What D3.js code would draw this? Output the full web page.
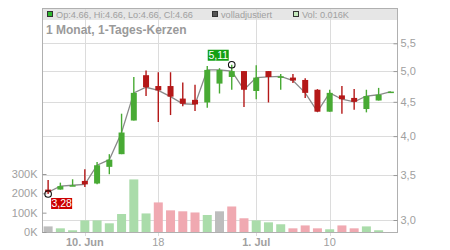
<!DOCTYPE html>
<html>
<head>
<meta charset="utf-8">
<script src="https://cdn.jsdelivr.net/npm/d3@7"></script>
<style>
  body { margin: 0; background: #fff; }
  svg { display: block; font-family: "Liberation Sans", Arial, sans-serif; }
</style>
</head>
<body>
<div id="chart"></div>
<script>
// daily candles, 5 Jun - 17 Jul 2024
const dates = ['2024-06-05', '2024-06-06', '2024-06-07', '2024-06-10', '2024-06-11', '2024-06-12', '2024-06-13',
  '2024-06-14', '2024-06-17', '2024-06-18', '2024-06-20', '2024-06-21', '2024-06-24', '2024-06-25', '2024-06-26',
  '2024-06-27', '2024-06-28', '2024-07-01', '2024-07-02', '2024-07-03', '2024-07-05', '2024-07-08', '2024-07-09',
  '2024-07-10', '2024-07-11', '2024-07-12', '2024-07-15', '2024-07-16', '2024-07-17'];
const open = [3.33, 3.33, 3.37, 3.43, 3.40, 3.60, 3.76, 4.22, 4.93, 4.75, 4.75, 4.55, 4.53, 4.49, 4.79,
  4.90, 5.00, 4.67, 5.00, 4.90, 4.89, 4.85, 4.69, 4.35, 4.60, 4.56, 4.39, 4.52, 4.66];
const high = [3.44, 3.41, 3.45, 3.57, 3.66, 3.76, 4.32, 4.90, 5.01, 4.98, 4.98, 4.81, 4.77, 5.09, 5.05,
  5.11, 5.00, 5.10, 5.00, 4.95, 4.95, 4.88, 4.70, 4.69, 4.75, 4.70, 4.69, 4.72, 4.66];
const low = [3.28, 3.33, 3.37, 3.36, 3.39, 3.51, 3.76, 4.22, 4.59, 4.20, 4.30, 4.43, 4.36, 4.41, 4.63,
  4.69, 4.42, 4.54, 4.49, 4.69, 4.80, 4.56, 4.35, 4.35, 4.32, 4.38, 4.34, 4.52, 4.66];
const close = [3.30, 3.37, 3.38, 3.39, 3.62, 3.69, 4.05, 4.64, 4.73, 4.68, 4.58, 4.47, 4.46, 5.02, 5.02,
  5.00, 4.69, 4.89, 4.90, 4.91, 4.84, 4.64, 4.35, 4.64, 4.54, 4.50, 4.59, 4.61, 4.66];
const volume = [29000, 19000, 9000, 60000, 60000, 45000, 93000, 272000, 96000, 153000, 112000, 107000, 101000,
  88000, 107000, 132000, 71000, 60000, 50000, 40000, 19000, 34000, 19000, 14000, 34000, 19000, 29000, 9000, 16];

const priceTicks = [3, 3.5, 4, 4.5, 5, 5.5];
const volumeTicks = [0, 100000, 200000, 300000];
const dateTicks = [
  { date: '2024-06-10', label: '10. Jun', bold: true },
  { date: '2024-06-18', label: '18', bold: false },
  { date: '2024-07-01', label: '1. Jul', bold: true },
  { date: '2024-07-10', label: '10', bold: false },
];

const title = '1 Monat, 1-Tages-Kerzen';

const data = dates.map((d, i) => ({
  date: d, open: open[i], high: high[i], low: low[i], close: close[i], volume: volume[i],
  prev: i > 0 ? close[i - 1] : null,
}));

// dimensions
const WIDTH = 450;
const HEIGHT = 250;
const LEFT = 42;
const RIGHT = 397;
const TOP = 8;
const BOTTOM = 232;

const GREEN = '#48aa34';
const RED = '#b41818';
const GRID = '#dcdcdc';
const AXIS = '#b0b0b0';
const TEXT = '#a0a0a0';

const de = d3.formatLocale({ decimal: ',', thousands: '.', grouping: [3], currency: ['', '€'] });
const fmtPrice = de.format('.1f');
const fmtLabel = de.format('.2f');

// scales
const x = d3.scaleBand().domain(dates).range([LEFT, RIGHT]).padding(0);
const cx = d => x(d) + x.bandwidth() / 2;
const y = d3.scaleLog().domain([3, 5.5]).range([220, 43.3]);
const yVol = d3.scaleLinear().domain([0, 300000]).range([BOTTOM, 174]);

const svg = d3.select('#chart').append('svg')
  .attr('width', WIDTH)
  .attr('height', HEIGHT);

// header band
svg.append('rect')
  .attr('x', LEFT).attr('y', TOP)
  .attr('width', RIGHT - LEFT).attr('height', 12)
  .attr('fill', '#e6e6e6');

// grid
const $grid = svg.append('g').attr('class', 'grid');
$grid.selectAll('.hgrid')
  .data(priceTicks)
  .join('line')
  .attr('x1', LEFT).attr('x2', RIGHT)
  .attr('y1', d => Math.round(y(d)) + 0.5).attr('y2', d => Math.round(y(d)) + 0.5)
  .attr('stroke', GRID);
$grid.selectAll('.vgrid')
  .data(dateTicks)
  .join('line')
  .attr('x1', d => Math.round(cx(d.date)) + 0.5).attr('x2', d => Math.round(cx(d.date)) + 0.5)
  .attr('y1', TOP).attr('y2', BOTTOM + 4)
  .attr('stroke', GRID);

// volume bars
const volColor = d => d.prev === null || d.close === d.prev ? '#bdbdbd' : (d.close > d.prev ? '#aadcaa' : '#f0a9b1');
svg.append('g').attr('class', 'volume')
  .selectAll('rect')
  .data(data)
  .join('rect')
  .attr('x', d => cx(d.date) - 4.5)
  .attr('width', 9)
  .attr('y', d => yVol(d.volume))
  .attr('height', d => BOTTOM - yVol(d.volume))
  .attr('fill', volColor);

// close line
const line = d3.line().x(d => cx(d.date)).y(d => y(d.close));
svg.append('path')
  .datum(data)
  .attr('d', line)
  .attr('fill', 'none')
  .attr('stroke', '#8a8a8a')
  .attr('stroke-width', 1.3);

// candles
const $candles = svg.append('g').attr('class', 'candles')
  .selectAll('g')
  .data(data)
  .join('g')
  .attr('fill', d => d.close >= d.open ? GREEN : RED)
  .attr('stroke', d => d.close >= d.open ? GREEN : RED);

$candles.append('line')
  .attr('x1', d => cx(d.date)).attr('x2', d => cx(d.date))
  .attr('y1', d => y(d.high)).attr('y2', d => y(d.low))
  .attr('stroke-width', 1.4);

$candles.append('rect')
  .attr('x', d => cx(d.date) - 3)
  .attr('width', 6)
  .attr('y', d => y(Math.max(d.open, d.close)))
  .attr('height', d => Math.max(1.5, Math.abs(y(d.open) - y(d.close))))
  .attr('stroke', 'none');

// frame and axes
svg.append('rect')
  .attr('x', LEFT + 0.5).attr('y', TOP + 0.5)
  .attr('width', RIGHT - LEFT).attr('height', BOTTOM - TOP)
  .attr('fill', 'none')
  .attr('stroke', AXIS);

const $yAxis = svg.append('g')
  .attr('transform', `translate(${RIGHT + 0.5},0)`)
  .call(d3.axisRight(y).tickValues(priceTicks).tickFormat(fmtPrice).tickSize(4).tickPadding(3))
  .call(g => g.select('.domain').remove());
$yAxis.selectAll('.tick line').attr('x1', -4).attr('x2', 0).attr('stroke', '#999');
$yAxis.selectAll('.tick text').attr('x', 3).attr('fill', TEXT).attr('font-size', 11)
  .attr('font-family', '"Liberation Sans", Arial, sans-serif');

const $vAxis = svg.append('g')
  .attr('transform', `translate(${LEFT + 0.5},0)`)
  .call(d3.axisLeft(yVol).tickValues(volumeTicks).tickFormat(d => d / 1000 + 'K').tickSize(0).tickPadding(5))
  .call(g => g.select('.domain').remove());
$vAxis.selectAll('.tick line').attr('x1', 0).attr('x2', 4).attr('stroke', '#999');
$vAxis.selectAll('.tick text').attr('fill', TEXT).attr('font-size', 11)
  .attr('font-family', '"Liberation Sans", Arial, sans-serif');

// x axis labels
const $xAxis = svg.append('g').attr('class', 'x axis');
$xAxis.selectAll('text')
  .data(dateTicks)
  .join('text')
  .attr('x', d => cx(d.date))
  .attr('y', 245.5)
  .attr('text-anchor', 'middle')
  .attr('font-size', 11)
  .attr('font-weight', d => d.bold ? 'bold' : 'normal')
  .attr('fill', TEXT)
  .text(d => d.label);

// header legend
const last = data[data.length - 1];
const legend = [
  { x: 47, fill: '#2eb82e', text: `Op:${last.open.toFixed(2)}, Hi:${last.high.toFixed(2)}, Lo:${last.low.toFixed(2)}, Cl:${last.close.toFixed(2)}` },
  { x: 212, fill: '#555', text: 'volladjustiert' },
  { x: 293, fill: '#c4e8bc', text: `Vol: ${(last.volume / 1000).toFixed(3)}K` },
];
const $legend = svg.append('g').selectAll('g').data(legend).join('g');
$legend.append('rect')
  .attr('x', d => d.x + 0.5).attr('y', 11.5)
  .attr('width', 5).attr('height', 5)
  .attr('fill', d => d.fill)
  .attr('stroke', '#333');
$legend.append('text')
  .attr('x', d => d.x + 9).attr('y', 17.5)
  .attr('font-size', 9.2)
  .attr('fill', TEXT)
  .text(d => d.text);

svg.append('text')
  .attr('x', 46).attr('y', 34)
  .attr('font-size', 12)
  .attr('font-weight', 'bold')
  .attr('fill', '#9a9a9a')
  .text(title);

// min / max markers
const iMin = d3.minIndex(data, d => d.low);
const iMax = d3.maxIndex(data, d => d.high);
const markers = [
  { d: data[iMin], v: data[iMin].low, fill: '#cc0000', bx: 3, by: 4 },
  { d: data[iMax], v: data[iMax].high, fill: '#13a013', bx: -24, by: -15 },
];
const $markers = svg.append('g').selectAll('g').data(markers).join('g');
$markers.append('circle')
  .attr('cx', m => cx(m.d.date)).attr('cy', m => y(m.v))
  .attr('r', 3.3)
  .attr('fill', 'none')
  .attr('stroke', '#111')
  .attr('stroke-width', 1.1);
$markers.append('rect')
  .attr('x', m => cx(m.d.date) + m.bx).attr('y', m => y(m.v) + m.by)
  .attr('width', 21).attr('height', 11)
  .attr('fill', m => m.fill);
$markers.append('text')
  .attr('x', m => cx(m.d.date) + m.bx + 10.5).attr('y', m => y(m.v) + m.by + 9)
  .attr('text-anchor', 'middle')
  .attr('font-size', 10.5)
  .attr('fill', '#fff')
  .text(m => fmtLabel(m.v));
</script>
</body>
</html>
